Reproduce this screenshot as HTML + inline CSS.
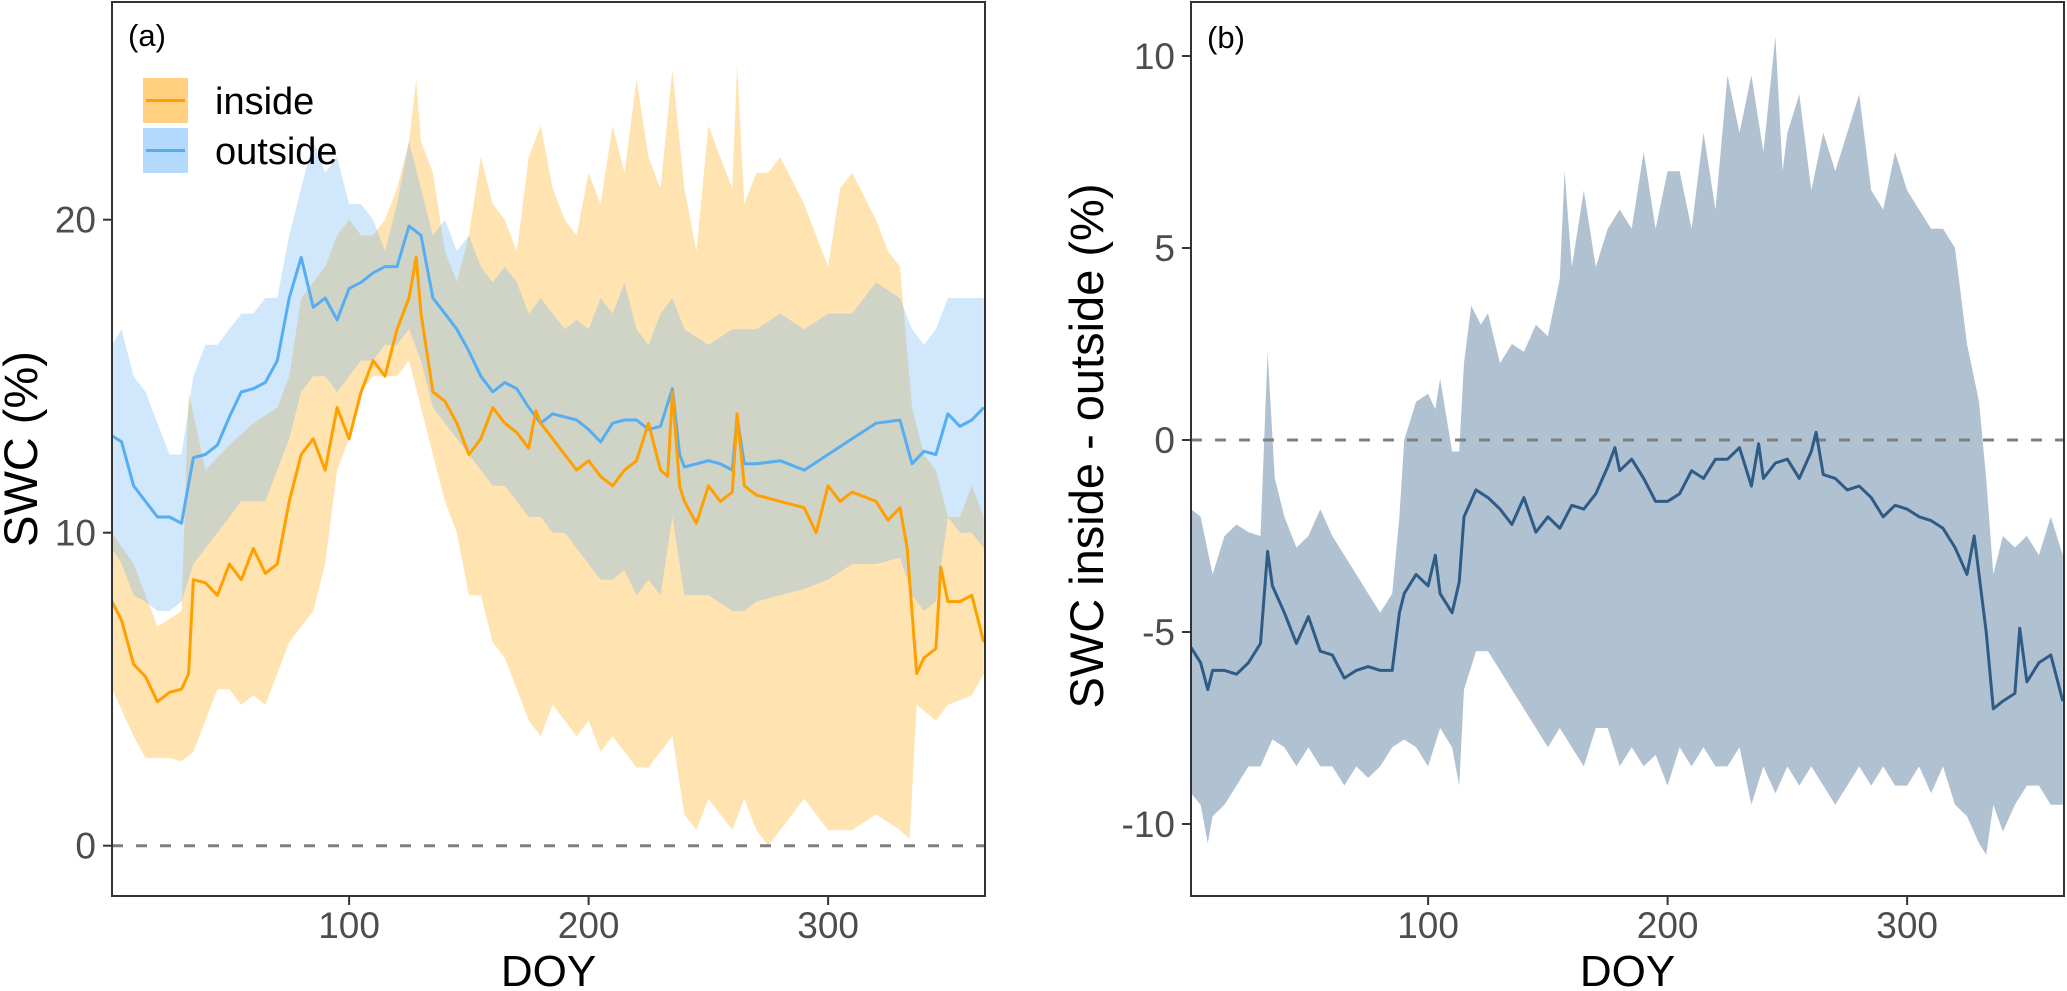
<!DOCTYPE html>
<html><head><meta charset="utf-8">
<style>
html,body{margin:0;padding:0;background:#fff;}
svg{display:block;font-family:"Liberation Sans",Arial,sans-serif;}
</style></head>
<body>
<svg id="chart" width="2067" height="991" viewBox="0 0 2067 991" xmlns="http://www.w3.org/2000/svg">
  <g id="pa"></g>
  <g id="pb"></g>
</svg>
<script>
// ---------- Panel (a) data ----------
const inMeanDays=[1,5,10,15,20,25,30,33,35,40,45,50,55,60,65,70,75,80,85,90,95,100,105,110,115,120,125,128,130,135,140,145,150,155,160,165,170,175,178,180,185,190,195,200,205,210,215,220,225,230,233,235,238,240,245,250,255,260,262,265,270,280,290,295,300,305,310,320,325,330,333,337,340,345,347,350,355,360,365];
const inMean=[7.8,7.2,5.8,5.4,4.6,4.9,5.0,5.5,8.5,8.4,8.0,9.0,8.5,9.5,8.7,9.0,11.0,12.5,13.0,12.0,14.0,13.0,14.5,15.5,15.0,16.5,17.5,18.8,17.0,14.5,14.2,13.5,12.5,13.0,14.0,13.5,13.2,12.7,13.9,13.5,13.0,12.5,12.0,12.3,11.8,11.5,12.0,12.3,13.5,12.0,11.8,14.5,11.5,11.0,10.3,11.5,11.0,11.3,13.8,11.5,11.2,11.0,10.8,10.0,11.5,11.0,11.3,11.0,10.4,10.8,9.5,5.5,6.0,6.3,8.9,7.8,7.8,8.0,6.5];
const inHiDays=[1,10,20,30,33,40,50,60,70,75,80,85,90,95,100,105,110,115,120,125,128,130,135,140,145,150,155,160,165,170,175,180,185,190,195,200,205,210,215,220,225,230,235,240,245,250,255,260,262,265,270,275,280,290,300,305,310,320,325,330,335,340,345,350,355,360,365];
const inHi=[10,9.0,7.0,7.5,14.5,12.0,12.8,13.5,14.0,15.0,17.5,18.0,18.5,19.5,20.0,19.5,19.5,20.0,21.0,22.5,24.5,22.5,21.5,19.0,18.0,19.5,22.0,20.5,20.0,19.0,22.0,23.0,21.0,20.0,19.5,21.5,20.5,23.0,21.5,24.5,22.0,21.0,24.8,21.0,19.0,23.0,22.0,21.0,25.0,20.5,21.5,21.5,22.0,20.5,18.5,21.0,21.5,20.0,19.0,18.5,14.0,12.5,12.0,10.5,10.5,11.5,10.5];
const inLoDays=[1,10,15,20,25,30,35,40,45,50,55,60,65,70,75,80,85,90,95,100,105,110,115,120,125,130,135,140,145,150,155,160,165,170,175,180,185,190,195,200,205,210,215,220,225,230,235,240,245,250,255,260,265,270,275,280,290,300,310,320,330,334,337,345,350,360,365];
const inLo=[5.0,3.5,2.8,2.8,2.8,2.7,3.0,4.0,5.0,5.0,4.5,4.8,4.5,5.5,6.5,7.0,7.5,9.0,12.0,13.0,14.5,15.0,15.0,15.0,15.5,14.0,12.5,11.0,10.0,8.0,8.0,6.5,6.0,5.0,4.0,3.5,4.5,4.0,3.5,4.0,3.0,3.5,3.0,2.5,2.5,3.0,3.5,1.0,0.5,1.5,1.0,0.5,1.5,0.5,0.0,0.5,1.5,0.5,0.5,1.0,0.5,0.2,4.5,4.0,4.5,4.8,5.5];
const outMeanDays=[1,5,10,15,20,25,30,35,40,45,50,55,60,65,70,75,80,85,90,95,100,105,110,115,120,125,130,135,140,145,150,155,160,165,170,175,180,185,190,195,200,205,210,215,220,225,230,235,238,240,250,255,260,262,265,270,280,290,300,310,320,330,335,340,345,350,355,360,365];
const outMean=[13.1,12.9,11.5,11.0,10.5,10.5,10.3,12.4,12.5,12.8,13.7,14.5,14.6,14.8,15.5,17.5,18.8,17.2,17.5,16.8,17.8,18.0,18.3,18.5,18.5,19.8,19.5,17.5,17.0,16.5,15.8,15.0,14.5,14.8,14.6,14.0,13.5,13.8,13.7,13.6,13.3,12.9,13.5,13.6,13.6,13.3,13.4,14.6,12.5,12.1,12.3,12.2,12.0,13.7,12.2,12.2,12.3,12.0,12.5,13.0,13.5,13.6,12.2,12.6,12.5,13.8,13.4,13.6,14.0];
const outHiDays=[1,5,10,15,20,25,30,35,40,45,50,55,60,65,70,75,80,85,90,95,100,105,110,115,120,125,130,135,140,145,150,155,160,165,170,175,180,185,190,195,200,205,210,215,220,225,230,235,240,250,260,270,280,290,300,310,320,330,335,340,345,350,355,365];
const outHi=[16.0,16.5,15.0,14.5,13.5,12.5,12.5,15.0,16.0,16.0,16.5,17.0,17.0,17.5,17.5,19.5,21.0,22.5,21.5,22.0,20.5,20.5,20.0,19.0,20.5,22.5,21.0,19.5,20.0,19.0,19.5,18.5,18.0,18.5,18.0,17.0,17.5,17.0,16.5,16.8,16.5,17.5,17.0,18.0,16.5,16.0,17.0,17.5,16.5,16.0,16.5,16.5,17.0,16.5,17.0,17.0,18.0,17.5,16.5,16.0,16.5,17.5,17.5,17.5];
const outLoDays=[1,5,10,15,20,25,30,35,40,45,50,55,60,65,70,75,80,85,90,95,100,105,110,115,120,125,130,135,140,145,150,155,160,165,170,175,180,185,190,195,200,205,210,215,220,225,230,235,240,250,260,265,270,280,290,300,310,320,330,335,340,345,350,355,360,365];
const outLo=[9.5,9.0,8.0,7.8,7.5,7.5,7.8,9.0,9.5,10.0,10.5,11.0,11.0,11.0,12.0,13.0,14.5,15.0,15.0,14.5,15.0,15.5,15.5,16.0,16.0,16.5,15.5,14.0,13.5,13.0,12.5,12.0,11.5,11.5,11.0,10.5,10.5,10.0,10.0,9.5,9.0,8.5,8.5,8.8,8.0,8.5,8.0,10.5,8.0,8.0,7.5,7.5,7.8,8.0,8.2,8.5,9.0,9.0,9.2,8.0,7.5,7.8,10.5,10.0,10.0,9.5];
const aYTicks=[0,10,20];
// ---------- Panel (b) data ----------
const dMeanDays=[1,5,8,10,15,20,25,30,33,35,40,45,50,55,60,65,70,75,80,85,88,90,95,100,103,105,110,113,115,120,125,130,135,140,145,150,155,160,165,170,175,178,180,185,190,195,200,205,210,215,220,225,230,235,238,240,245,250,255,260,262,265,270,275,280,285,290,295,300,305,310,315,320,325,328,330,333,336,340,345,347,350,355,360,365];
const dMean=[-5.4,-5.8,-6.5,-6.0,-6.0,-6.1,-5.8,-5.3,-2.9,-3.8,-4.5,-5.3,-4.6,-5.5,-5.6,-6.2,-6.0,-5.9,-6.0,-6.0,-4.5,-4.0,-3.5,-3.8,-3.0,-4.0,-4.5,-3.7,-2.0,-1.3,-1.5,-1.8,-2.2,-1.5,-2.4,-2.0,-2.3,-1.7,-1.8,-1.4,-0.7,-0.2,-0.8,-0.5,-1.0,-1.6,-1.6,-1.4,-0.8,-1.0,-0.5,-0.5,-0.2,-1.2,-0.1,-1.0,-0.6,-0.5,-1.0,-0.3,0.2,-0.9,-1.0,-1.3,-1.2,-1.5,-2.0,-1.7,-1.8,-2.0,-2.1,-2.3,-2.8,-3.5,-2.5,-3.5,-5.0,-7.0,-6.8,-6.6,-4.9,-6.3,-5.8,-5.6,-6.8];
const dHiDays=[1,5,10,15,20,25,30,33,36,40,45,50,55,60,65,70,75,80,85,88,90,95,100,103,105,110,113,115,118,122,125,130,135,140,145,150,155,157,160,165,170,175,180,185,190,195,200,205,210,215,220,225,230,235,240,245,248,250,255,260,265,270,275,280,285,290,295,300,305,310,315,320,325,330,333,336,340,345,350,355,360,365];
const dHi=[-1.8,-2.0,-3.5,-2.5,-2.2,-2.4,-2.5,2.3,-1.0,-2.0,-2.8,-2.5,-1.8,-2.5,-3.0,-3.5,-4.0,-4.5,-4.0,-2.0,0.0,1.0,1.2,0.8,1.6,-0.3,-0.3,2.0,3.5,3.0,3.3,2.0,2.5,2.3,3.0,2.7,4.2,7.0,4.5,6.5,4.5,5.5,6.0,5.5,7.5,5.5,7.0,7.0,5.5,8.0,6.0,9.5,8.0,9.5,7.5,10.5,7.0,8.0,9.0,6.5,8.0,7.0,8.0,9.0,6.5,6.0,7.5,6.5,6.0,5.5,5.5,5.0,2.5,1.0,-1.0,-3.5,-2.5,-2.8,-2.5,-3.0,-2.0,-3.0];
const dLoDays=[1,5,8,10,15,20,25,30,35,40,45,50,55,60,65,70,75,80,85,90,95,100,105,110,113,115,120,125,130,135,140,145,150,155,160,165,170,175,180,185,190,195,200,205,210,215,220,225,230,235,240,245,250,255,260,265,270,275,280,285,290,295,300,305,310,315,320,325,330,333,336,340,345,350,355,360,365];
const dLo=[-9.2,-9.5,-10.5,-9.8,-9.5,-9.0,-8.5,-8.5,-7.8,-8.0,-8.5,-8.0,-8.5,-8.5,-9.0,-8.5,-8.8,-8.5,-8.0,-7.8,-8.0,-8.5,-7.5,-8.0,-9.0,-6.5,-5.5,-5.5,-6.0,-6.5,-7.0,-7.5,-8.0,-7.5,-8.0,-8.5,-7.5,-7.5,-8.5,-8.0,-8.5,-8.2,-9.0,-8.0,-8.5,-8.0,-8.5,-8.5,-8.0,-9.5,-8.5,-9.2,-8.5,-9.0,-8.5,-9.0,-9.5,-9.0,-8.5,-9.0,-8.5,-9.0,-9.0,-8.5,-9.2,-8.5,-9.5,-9.8,-10.5,-10.8,-9.5,-10.2,-9.5,-9.0,-9.0,-9.5,-9.5];
const bYTicks=[-10,-5,0,5,10];
const xTicks=[100,200,300];

const NS='http://www.w3.org/2000/svg';
function mk(parent,tag,attrs,text){const e=document.createElementNS(NS,tag);for(const k in attrs)e.setAttribute(k,attrs[k]);if(text!==undefined)e.textContent=text;parent.appendChild(e);return e;}
function scale(d0,d1,r0,r1){return v=>r0+(v-d0)/(d1-d0)*(r1-r0);}
function linePath(days,vals,sx,sy){return days.map((d,i)=>(i?'L':'M')+sx(d).toFixed(1)+','+sy(vals[i]).toFixed(1)).join('');}
function ribbonPath(hd,hv,ld,lv,sx,sy){let p=hd.map((d,i)=>(i?'L':'M')+sx(d).toFixed(1)+','+sy(hv[i]).toFixed(1)).join('');for(let i=ld.length-1;i>=0;i--)p+='L'+sx(ld[i]).toFixed(1)+','+sy(lv[i]).toFixed(1);return p+'Z';}

function axes(g,L,R,T,B,sx,sy,yTicks){
  let e;
  xTicks.forEach(t=>{
    e=mk(g,'line',{x1:sx(t),x2:sx(t),y1:B,y2:B+9,stroke:'#333','stroke-width':2});
    
    
    e=mk(g,'text',{x:sx(t),y:938,'text-anchor':'middle','font-size':37,fill:'#4d4d4d'},String(t));
    
    
  });
  yTicks.forEach(t=>{
    e=mk(g,'line',{x1:L-9,x2:L,y1:sy(t),y2:sy(t),stroke:'#333','stroke-width':2});
    
    
    e=mk(g,'text',{x:L-16,y:sy(t)+13,'text-anchor':'end','font-size':37,fill:'#4d4d4d'},String(t));
    
    
  });
  e=mk(g,'rect',{x:L,y:T,width:R-L,height:B-T,fill:'none',stroke:'#333','stroke-width':2});
  
  
  e=mk(g,'text',{x:(L+R)/2,y:986,'text-anchor':'middle','font-size':44,fill:'#000'},'DOY');
  
  
}

// Panel A
(function(){
  const g=document.getElementById('pa');
  const L=112,R=985,T=2,B=896;
  const sx=scale(1,365.5,L,R), sy=scale(0,10,845.7,532.7);
  const defs=mk(g,'defs',{});const cp=mk(defs,'clipPath',{id:'clipA'});mk(cp,'rect',{x:L,y:T,width:R-L,height:B-T});
  const pg=mk(g,'g',{'clip-path':'url(#clipA)'});
  let e;
  e=mk(pg,'path',{d:ribbonPath(inHiDays,inHi,inLoDays,inLo,sx,sy),fill:'#FFA500','fill-opacity':0.3});
  
  
  e=mk(pg,'path',{d:ribbonPath(outHiDays,outHi,outLoDays,outLo,sx,sy),fill:'#63AEF5','fill-opacity':0.3});
  
  
  e=mk(pg,'line',{x1:L,x2:R,y1:sy(0),y2:sy(0),stroke:'#7f7f7f','stroke-width':3,'stroke-dasharray':'11 13'});
  
  
  e=mk(pg,'path',{d:linePath(outMeanDays,outMean,sx,sy),fill:'none',stroke:'#55AEF2','stroke-width':3,'stroke-linejoin':'round'});
  
  
  e=mk(pg,'path',{d:linePath(inMeanDays,inMean,sx,sy),fill:'none',stroke:'#FFA000','stroke-width':3,'stroke-linejoin':'round'});
  
  
  axes(g,L,R,T,B,sx,sy,aYTicks);
  e=mk(g,'text',{x:128,y:46,'font-size':31,fill:'#000'},'(a)');
  
  
  e=mk(g,'text',{x:0,y:0,'text-anchor':'middle','font-size':47,fill:'#000',transform:'translate(37,449) rotate(-90)'},'SWC (%)');
  
  
  const lg=mk(g,'g',{});
  
  
  e=mk(lg,'rect',{x:143,y:78,width:45,height:45,fill:'#FFD07F'});
  
  
  mk(lg,'line',{x1:146,x2:185,y1:100.5,y2:100.5,stroke:'#FFA000','stroke-width':3});
  e=mk(lg,'rect',{x:143,y:128,width:45,height:45,fill:'#B3DAFC'});
  
  
  mk(lg,'line',{x1:146,x2:185,y1:150.5,y2:150.5,stroke:'#55AEF2','stroke-width':3});
  e=mk(lg,'text',{x:215,y:114,'font-size':38,fill:'#000'},'inside');
  
  
  e=mk(lg,'text',{x:215,y:164,'font-size':38,fill:'#000'},'outside');
  
  
})();

// Panel B
(function(){
  const g=document.getElementById('pb');
  const L=1191,R=2064,T=2,B=896;
  const sx=scale(1,365.5,L,R), sy=scale(0,-5,440,632);
  const defs=mk(g,'defs',{});const cp=mk(defs,'clipPath',{id:'clipB'});mk(cp,'rect',{x:L,y:T,width:R-L,height:B-T});
  const pg=mk(g,'g',{'clip-path':'url(#clipB)'});
  let e;
  e=mk(pg,'path',{d:ribbonPath(dHiDays,dHi,dLoDays,dLo,sx,sy),fill:'#B0C1D2'});
  
  
  e=mk(pg,'line',{x1:L,x2:R,y1:sy(0),y2:sy(0),stroke:'#7f7f7f','stroke-width':3,'stroke-dasharray':'11 13'});
  
  
  e=mk(pg,'path',{d:linePath(dMeanDays,dMean,sx,sy),fill:'none',stroke:'#2E5C87','stroke-width':3,'stroke-linejoin':'round'});
  
  
  axes(g,L,R,T,B,sx,sy,bYTicks);
  e=mk(g,'text',{x:1207,y:48,'font-size':31,fill:'#000'},'(b)');
  
  
  e=mk(g,'text',{x:0,y:0,'text-anchor':'middle','font-size':47,fill:'#000',transform:'translate(1103,446) rotate(-90)'},'SWC inside - outside (%)');
  
  
})();
</script>
</body></html>
